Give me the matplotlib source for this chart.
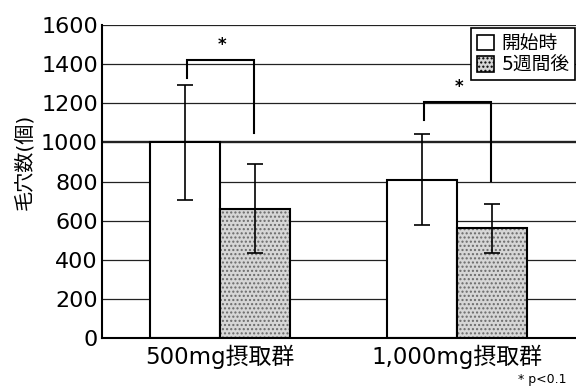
import matplotlib.pyplot as plt
import matplotlib.patches as mpatches
import numpy as np

plt.rcParams['font.family'] = ['DejaVu Sans', 'Noto Sans CJK JP']

# data
groups = ['500mg摂取群', '1,000mg摂取群']
start_vals = [1000, 810]      # 開始時
start_err = [295, 232]
after_vals = [660, 560]       # 5週間後
after_err = [228, 124]
# significance brackets: top, left leg end, right leg end
br_top = [1420, 1205]
br_left = [1330, 1115]
br_right = [1050, 805]
yticks = [0, 200, 400, 600, 800, 1000, 1200, 1400, 1600]

fig = plt.figure(figsize=(5.76, 3.87), dpi=100)
ax = fig.add_axes([102 / 576, 49 / 387, 474 / 576, 313 / 387])

x = np.arange(len(groups))
w = 0.293
off = 0.148

# grid lines behind bars
for t in yticks[1:]:
    ax.axhline(t, color='#222222', lw=1.7 if t == 1000 else 0.9, zorder=0.5)

ax.bar(x - off, start_vals, width=w, facecolor='white', edgecolor='black',
       linewidth=1.5, zorder=2)
ax.bar(x + off, after_vals, width=w, facecolor='#d6d6d6', edgecolor='#6a6a6a',
       hatch='....', linewidth=0, zorder=2)
ax.bar(x + off, after_vals, width=w, facecolor='none', edgecolor='black',
       linewidth=1.5, zorder=2.1)

ax.errorbar(x - off, start_vals, yerr=start_err, fmt='none', ecolor='black',
            elinewidth=1.2, capsize=6, capthick=1.2, zorder=3)
ax.errorbar(x + off, after_vals, yerr=after_err, fmt='none', ecolor='black',
            elinewidth=1.2, capsize=6, capthick=1.2, zorder=3)

# brackets with stars
for i in range(len(groups)):
    xl = x[i] - off + 0.01
    xr = x[i] + off - 0.005
    ax.plot([xl, xl, xr, xr], [br_left[i], br_top[i], br_top[i], br_right[i]],
            color='black', lw=1.5, zorder=4, solid_joinstyle='miter')
    ax.text(x[i] + 0.01, br_top[i] + 30, '*', ha='center', va='bottom',
            fontsize=12, fontweight='bold', zorder=4)

ax.set_xlim(-0.498, 1.502)
ax.set_ylim(0, 1600)
ax.set_yticks(yticks)
ax.tick_params(axis='y', length=0, pad=3, labelsize=16)
ax.set_xticks(x)
ax.set_xticklabels(groups, fontsize=16.5)
ax.tick_params(axis='x', length=0, pad=5)

for s in ['top', 'right']:
    ax.spines[s].set_visible(False)
ax.spines['left'].set_linewidth(1.5)
ax.spines['bottom'].set_linewidth(1.5)

fig.text(24 / 576, 1 - 162 / 387, '毛穴数(個)', rotation=90, ha='center',
         va='center', fontsize=14.5)

h1 = mpatches.Patch(facecolor='white', edgecolor='black', linewidth=1.2)
h2 = mpatches.Patch(facecolor='#d6d6d6', edgecolor='black', hatch='....',
                    linewidth=1.2)
leg = ax.legend([h1, h2], ['開始時', '5週間後'], loc='upper right',
                bbox_to_anchor=(0.998, 0.99), fontsize=13.5, fancybox=False,
                framealpha=1, edgecolor='black', handlelength=0.9,
                handleheight=0.9, handletextpad=0.4, borderpad=0.3,
                labelspacing=0.15, borderaxespad=0)
leg.get_frame().set_linewidth(1.2)
leg.set_zorder(5)

fig.text(566 / 576, 1 - 379 / 387, '* p<0.1', ha='right', va='center',
         fontsize=9)

fig.savefig('out.png', dpi=100)
